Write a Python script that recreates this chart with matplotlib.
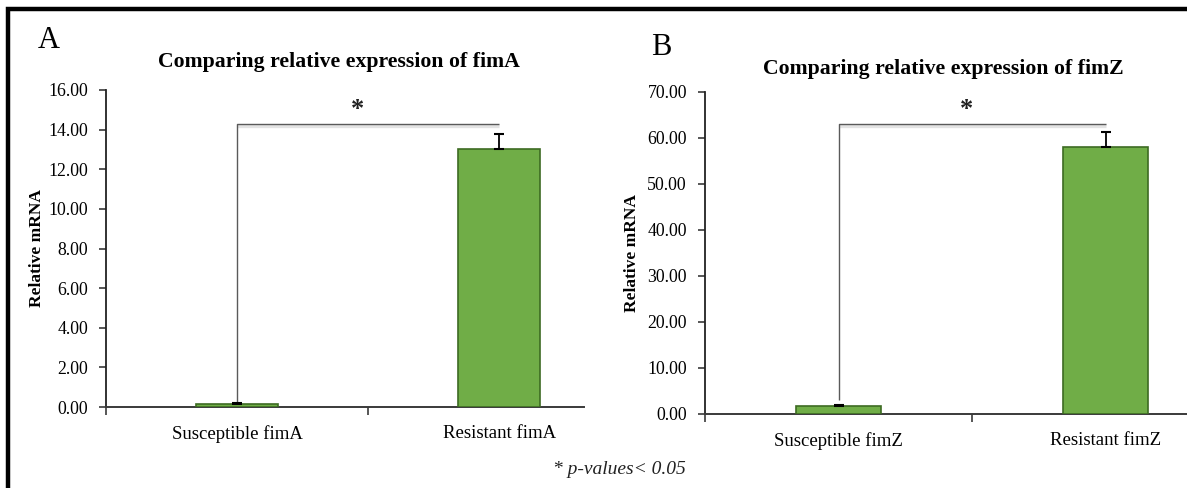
import matplotlib
matplotlib.use("Agg")
import matplotlib.pyplot as plt
from matplotlib.lines import Line2D
import numpy as np

# ---- data ----
categories_A = ["Susceptible fimA", "Resistant fimA"]
values_A = [0.14, 13.03]
errors_A = [0.05, 0.75]
title_A = "Comparing relative expression of fimA"
yticks_A = [0, 2, 4, 6, 8, 10, 12, 14, 16]
bracket_A = 14.3
bracket_low_A = 0.27

categories_B = ["Susceptible fimZ", "Resistant fimZ"]
values_B = [1.65, 58.1]
errors_B = [0.25, 3.1]
title_B = "Comparing relative expression of fimZ"
yticks_B = [0, 10, 20, 30, 40, 50, 60, 70]
bracket_B = 63.0
bracket_low_B = 3.0

ylabel = "Relative mRNA"
footnote = "* p-values< 0.05"

# ---- style ----
W, H = 1187, 488
SERIF = ["Liberation Serif", "DejaVu Serif"]
plt.rcParams["font.family"] = SERIF
GREEN = "#70AD47"
EDGE = "#3d6b22"
AXC = "#3a3a3a"

fig = plt.figure(figsize=(W / 100, H / 100), dpi=100)


def fx(px):
    return px / W


def fy(py):
    return 1 - py / H


def panel(rect, cats, vals, errs, yticks, xright, br, brlow, star_x):
    ax = fig.add_axes(rect)
    x = np.arange(len(cats))
    ax.bar(x, vals, width=0.315, color=GREEN, edgecolor=EDGE, linewidth=1.2, zorder=3)
    ax.errorbar(x, vals, yerr=[np.zeros(len(errs)), errs], fmt="none",
                ecolor="black", elinewidth=1.3, capsize=3.5, capthick=1.5, zorder=4)
    ax.set_xlim(-0.5, xright)
    ax.set_ylim(yticks[0], yticks[-1])
    ax.set_yticks(yticks)
    ax.set_yticklabels([f"{t:.2f}" for t in yticks], fontsize=12.8)
    ax.set_xticks(x)
    ax.set_xticklabels(cats, fontsize=13.5)
    ax.set_xticks([-0.5, 0.5], minor=True)
    ax.tick_params(axis="x", which="major", length=0, pad=13)
    ax.tick_params(axis="x", which="minor", length=6, width=1.2, color=AXC, direction="out")
    ax.tick_params(axis="y", length=5, width=1.2, color=AXC, pad=8, direction="out")
    for s in ("top", "right"):
        ax.spines[s].set_visible(False)
    ax.spines["left"].set_color("#222222")
    ax.spines["left"].set_linewidth(1.3)
    ax.spines["bottom"].set_color(AXC)
    ax.spines["bottom"].set_linewidth(1.4)
    ax.set_facecolor("none")
    # significance bracket
    ymax = yticks[-1]
    off = ymax * 0.007
    ax.plot([0, 1], [br - off, br - off], color="#e3e3e3", lw=2.4, zorder=1,
            clip_on=False, solid_capstyle="butt")
    ax.plot([0, 0, 1], [brlow, br, br], color="#5a5a5a", lw=1.0, zorder=2,
            clip_on=False, solid_capstyle="butt")
    ax.text(star_x, br + ymax * 0.01, "*", ha="center", va="bottom",
            fontsize=19, fontweight="bold", color="#222222")
    return ax


axA = panel([fx(106), fy(407), fx(584 - 106), (407 - 90) / H],
            categories_A, values_A, errors_A, yticks_A, 1.324,
            bracket_A, bracket_low_A, 0.458)
axB = panel([fx(705), fy(414), fx(1187 - 705), (414 - 92) / H],
            categories_B, values_B, errors_B, yticks_B, 1.305,
            bracket_B, bracket_low_B, 0.48)

# titles, letters, y labels
fig.text(fx(339), fy(67), title_A, ha="center", va="baseline",
         fontsize=15.7, fontweight="bold")
fig.text(fx(943), fy(74), title_B, ha="center", va="baseline",
         fontsize=15.7, fontweight="bold")
fig.text(fx(38), fy(48), "A", ha="left", va="baseline", fontsize=22)
fig.text(fx(651), fy(55), "B", ha="left", va="baseline", fontsize=22)
fig.text(fx(37), fy(248), ylabel, rotation=90, ha="center", va="center",
         fontsize=12.5, fontweight="bold")
fig.text(fx(632), fy(253), ylabel, rotation=90, ha="center", va="center",
         fontsize=12.5, fontweight="bold")

# footnote
fig.text(fx(686), fy(470), footnote, ha="right", va="center",
         fontsize=14, style="italic", color="#222222")

# outer border (left and top edges)
fig.add_artist(Line2D([fx(8), fx(8), fx(1187)], [0, fy(9), fy(9)],
                      transform=fig.transFigure, color="black", lw=3.2,
                      solid_joinstyle="miter"))

fig.savefig("out.png", dpi=100, facecolor="white")
